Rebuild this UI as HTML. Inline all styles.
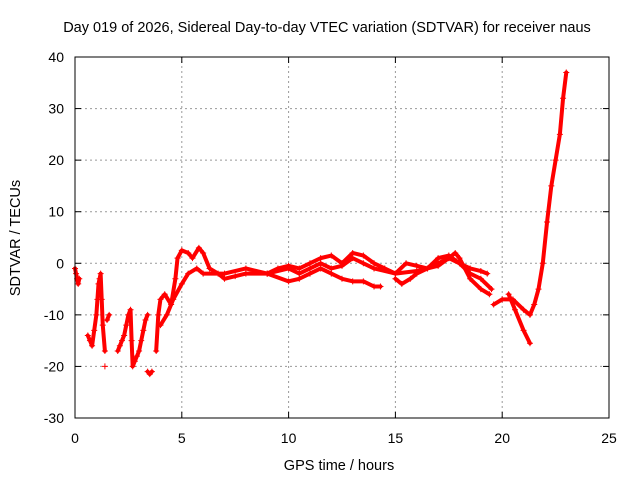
<!DOCTYPE html>
<html><head><meta charset="utf-8"><style>
body{margin:0;background:#fff;}
svg{display:block;font-family:"Liberation Sans",sans-serif;}
</style></head><body>
<svg id="chart" width="640" height="480">
<text x="327" y="32" text-anchor="middle" font-size="14.5">Day 019 of 2026, Sidereal Day-to-day VTEC variation (SDTVAR) for receiver naus</text>
<text x="339" y="470" text-anchor="middle" font-size="14.5">GPS time / hours</text>
<text transform="translate(20,238) rotate(-90)" text-anchor="middle" font-size="14.5">SDTVAR / TECUs</text>
<g id="grid"></g><g id="axes"></g><g id="marks"></g>
<rect x="75" y="57" width="534" height="361" fill="none" stroke="#000"/>
</svg>
<script>
const xTicks=[0,5,10,15,20,25];
const yTicks=[-30,-20,-10,0,10,20,30,40];
const trackA=[[0,-1],[0.05,-2],[0.1,-3],[0.15,-4],[0.2,-3]];
const trackB=[[0.6,-14],[0.7,-15],[0.8,-16],[0.9,-13],[1.0,-10],[1.05,-7],[1.1,-4],[1.15,-3],[1.2,-2],[1.25,-7],[1.3,-12],[1.4,-17]];
const trackB2=[[1.5,-11],[1.6,-10]];
const trackC=[[2.0,-17],[2.1,-16],[2.2,-15],[2.3,-14],[2.4,-12],[2.5,-10],[2.6,-9],[2.65,-15],[2.7,-20],[2.8,-19],[2.9,-18],[3.0,-17],[3.1,-15],[3.2,-13],[3.3,-11],[3.4,-10]];
const trackD=[[3.4,-21],[3.5,-21.5],[3.6,-21]];
const trackE=[[3.8,-17],[3.9,-10],[4.0,-7],[4.2,-6],[4.5,-8],[4.7,-3],[4.8,1],[5.0,2.5],[5.3,2],[5.5,1],[5.8,3],[6.0,2],[6.3,-1],[6.7,-2],[7,-3],[7.5,-2.5],[8,-2],[9,-2],[10,-1],[10.5,-2],[11,-1],[11.5,0],[12,-1],[12.5,-0.5],[13,1],[13.5,0],[14,-1],[15,-2],[16,-1.5],[16.5,-1],[17,-0.5],[17.5,1],[18,0],[18.5,-2],[19,-3],[19.5,-5]];
const trackF=[[4.0,-12],[4.3,-10],[4.6,-7],[5.0,-4],[5.3,-2],[5.7,-1],[6.0,-2],[7,-2],[8,-1],[9,-2],[9.5,-1],[10,-0.5],[10.5,-1],[11,0],[11.5,1],[12,1.5],[12.5,0],[13,2],[13.5,1.5],[14,0],[14.5,-1],[15,-2],[15.5,0],[16,-0.5],[16.5,-1],[17,1],[17.5,1.5],[18,0],[18.5,-1],[19,-1.5],[19.3,-2]];
const trackG=[[9,-2],[10,-3.5],[10.5,-3],[11,-2],[11.5,-1],[12,-2],[12.5,-3],[13,-3.5],[13.5,-3.5],[14,-4.5],[14.3,-4.5]];
const trackH=[[15,-3],[15.3,-4],[15.7,-3],[16,-2],[16.5,-1],[17,0],[17.5,1],[17.8,2],[18,1],[18.5,-3],[19,-5],[19.4,-6]];
const trackI=[[19.6,-8],[20,-7],[20.5,-7],[21,-9],[21.3,-10],[21.5,-8],[21.7,-5],[21.9,0],[22.1,8],[22.3,15],[22.5,20],[22.7,25],[22.85,32],[23,37]];
const trackJ=[[20.3,-6],[20.6,-9],[21,-13],[21.3,-15.5]];
const singles=[[1.4,-20]];
const tracks=[trackA,trackB,trackB2,trackC,trackD,trackE,trackF,trackG,trackH,trackI,trackJ];

const NS="http://www.w3.org/2000/svg";
const X0=75,X1=609,Y0=418,Y1=57;
const sx=v=>X0+(v-0)/25*(X1-X0);
const sy=v=>Y0-(v+30)/70*(Y0-Y1);
function mk(tag,at,parent){const e=document.createElementNS(NS,tag);for(const k in at)e.setAttribute(k,at[k]);parent.appendChild(e);return e;}
const grid=document.getElementById('grid'),axes=document.getElementById('axes'),marks=document.getElementById('marks');
xTicks.forEach(t=>{
  const x=sx(t);
  if(t>0&&t<25){const g=mk('line',{x1:x,x2:x,y1:Y0,y2:Y1,stroke:'#999','stroke-dasharray':'2,3','stroke-width':1},grid);
  
  }
  mk('line',{x1:x,x2:x,y1:Y0,y2:Y0-6,stroke:'#000'},axes);
  mk('line',{x1:x,x2:x,y1:Y1,y2:Y1+6,stroke:'#000'},axes);
  const l=mk('text',{x:x,y:443,'text-anchor':'middle','font-size':14},axes);l.textContent=t;
  
  
});
yTicks.forEach(t=>{
  const y=sy(t);
  if(t>-30&&t<40){const g=mk('line',{x1:X0,x2:X1,y1:y,y2:y,stroke:'#999','stroke-dasharray':'2,3','stroke-width':1},grid);
  
  }
  mk('line',{x1:X0,x2:X0+6,y1:y,y2:y,stroke:'#000'},axes);
  mk('line',{x1:X1,x2:X1-6,y1:y,y2:y,stroke:'#000'},axes);
  const l=mk('text',{x:64,y:y+5,'text-anchor':'end','font-size':14},axes);l.textContent=t;
  
  
});
function plus(v){const x=sx(v[0]),y=sy(v[1]);
  const p=mk('path',{d:`M${x-3},${y}h6M${x},${y-3}v6`,stroke:'#f00','stroke-width':1},marks);
  
  }
tracks.forEach(tr=>{
  const pl=mk('polyline',{points:tr.map(v=>sx(v[0])+','+sy(v[1])).join(' '),fill:'none',stroke:'#f00','stroke-width':4,'stroke-linejoin':'round','stroke-linecap':'round'},marks);
  
  
  tr.forEach(plus);
});
singles.forEach(plus);
</script>
</body></html>
